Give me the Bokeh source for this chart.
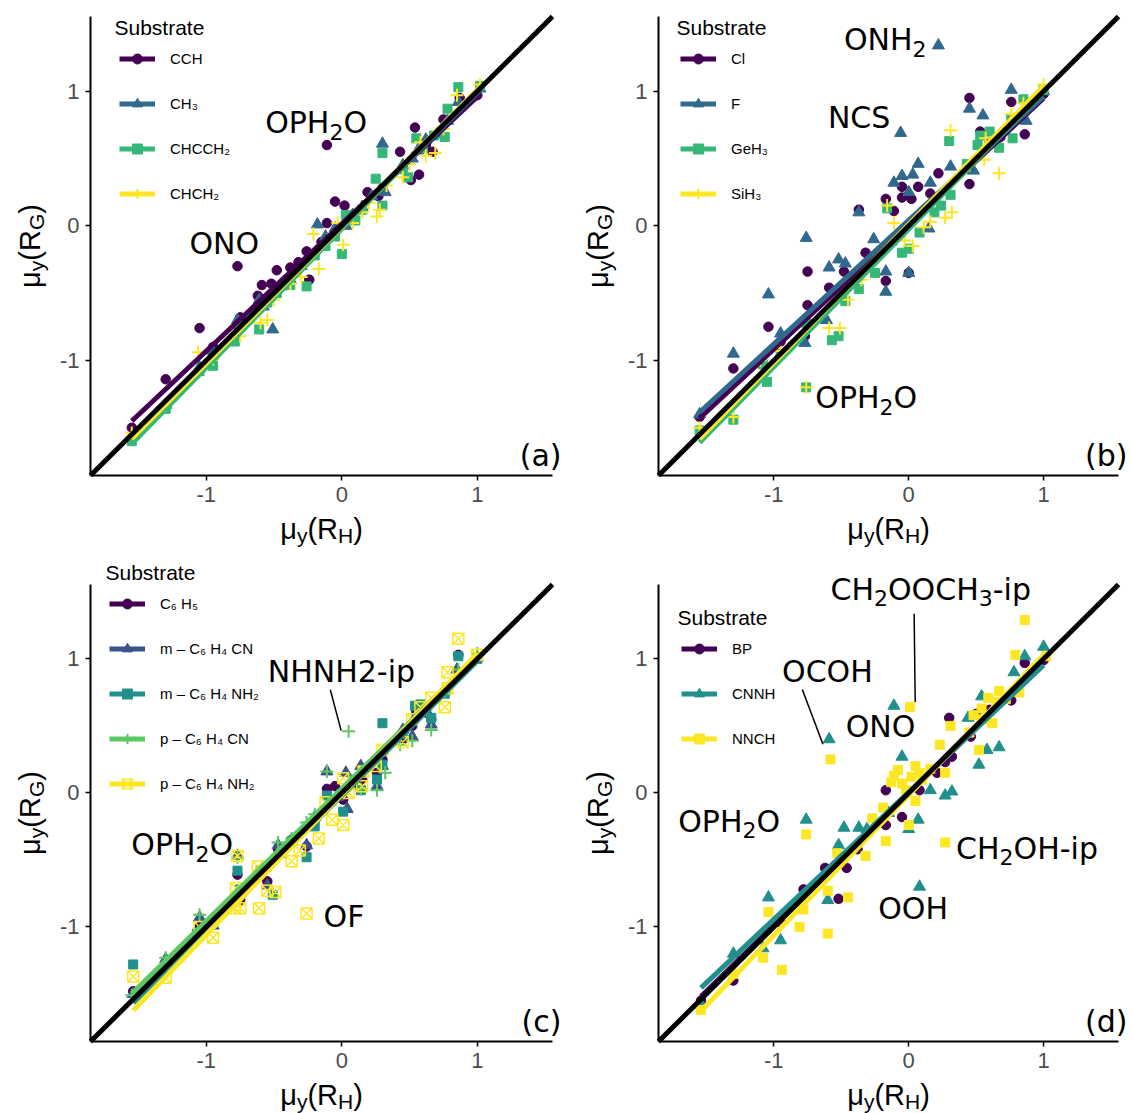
import math
from bokeh.plotting import figure
from bokeh.models import (Range1d, FixedTicker, Label, Legend, LegendItem)
from bokeh.layouts import column, row
from bokeh.embed import file_html
from bokeh.resources import INLINE

# ---------------- shared axis settings ----------------
axis_limits = [-1.855, 1.555]
tick_values = [-1, 0, 1]
tick_labels = ["-1", "0", "1"]

# ---------------- panel (a) ----------------
a_labels = ["CCH", "CH₃", "CHCCH₂", "CHCH₂"]
a_colors = ["#440154", "#31688E", "#35B779", "#FDE725"]
a_markers = ["circle", "triangle", "square", "cross"]
a_cch_x = [-1.55, -1.30, -1.05, -0.95, -0.77, -0.75, -0.62, -0.59, -0.52, -0.48, -0.38, -0.32, -0.26, -0.24, -0.15, -0.11, -0.11, -0.05, 0.02, 0.08, 0.19, 0.27, 0.30, 0.43, 0.51, 0.54, 0.57, 0.62, 0.67, 0.75, 0.87, 1.00]
a_cch_y = [-1.50, -1.14, -0.76, -0.90, -0.30, -0.68, -0.52, -0.44, -0.43, -0.33, -0.31, -0.27, -0.19, -0.40, -0.12, 0.60, 0.02, 0.18, 0.15, 0.06, 0.25, 0.22, 0.28, 0.55, 0.34, 0.73, 0.38, 0.60, 0.55, 0.79, 0.95, 0.97]
a_ch3_x = [-1.55, -1.30, -1.05, -0.95, -0.77, -0.75, -0.61, -0.58, -0.51, -0.45, -0.38, -0.30, -0.18, -0.12, -0.05, 0.03, 0.08, 0.15, 0.22, 0.30, 0.32, 0.45, 0.52, 0.56, 0.62, 0.70, 0.78, 0.86, 1.02]
a_ch3_y = [-1.56, -1.33, -1.05, -0.93, -0.70, -0.74, -0.55, -0.60, -0.77, -0.45, -0.40, -0.30, 0.01, -0.08, -0.02, 0.00, 0.08, 0.14, 0.22, 0.61, 0.25, 0.45, 0.50, 0.56, 0.64, 0.68, 0.78, 0.92, 1.02]
a_chcch2_x = [-1.55, -1.30, -1.05, -0.95, -0.79, -0.75, -0.61, -0.55, -0.48, -0.38, -0.26, -0.20, -0.12, -0.05, 0.00, 0.03, 0.10, 0.15, 0.25, 0.30, 0.30, 0.45, 0.49, 0.55, 0.60, 0.68, 0.76, 0.78, 0.86, 1.02]
a_chcch2_y = [-1.60, -1.36, -1.08, -1.04, -0.86, -0.75, -0.77, -0.57, -0.50, -0.44, -0.45, -0.22, -0.15, -0.08, -0.21, 0.08, 0.04, 0.12, 0.35, 0.54, 0.15, 0.42, 0.36, 0.65, 0.58, 0.67, 0.66, 0.87, 1.03, 1.04]
a_chch2_x = [-1.55, -1.30, -1.06, -0.95, -0.77, -0.75, -0.60, -0.55, -0.50, -0.38, -0.30, -0.21, -0.17, -0.10, -0.03, 0.01, 0.08, 0.15, 0.20, 0.26, 0.28, 0.33, 0.45, 0.50, 0.58, 0.62, 0.69, 0.75, 0.85, 1.02]
a_chch2_y = [-1.54, -1.33, -0.94, -0.99, -0.78, -0.82, -0.72, -0.70, -0.55, -0.43, -0.38, -0.06, -0.32, -0.10, 0.02, -0.14, 0.02, 0.10, 0.17, 0.07, 0.12, 0.30, 0.36, 0.46, 0.62, 0.52, 0.54, 0.72, 0.97, 1.05]
a_fit_slope = [0.945, 1.000, 1.031, 1.016]
a_fit_intercept = [0.015, -0.010, -0.022, -0.005]
a_note_text = ["OPH₂O", "ONO"]
a_note_x = [-0.19, -0.868]
a_note_y = [0.765, -0.134]

# ---------------- panel (b) ----------------
b_labels = ["Cl", "F", "GeH₃", "SiH₃"]
b_colors = ["#440154", "#31688E", "#35B779", "#FDE725"]
b_markers = ["circle", "triangle", "square", "cross"]
b_cl_x = [-1.55, -1.30, -1.04, -0.95, -0.77, -0.75, -0.75, -0.59, -0.48, -0.37, -0.32, -0.17, -0.17, -0.11, -0.05, -0.05, 0.00, 0.02, 0.07, 0.16, 0.22, 0.45, 0.45, 0.53, 0.60, 0.68, 0.76, 0.86, 1.00]
b_cl_y = [-1.42, -1.06, -0.75, -0.86, -0.82, -0.34, -0.59, -0.46, -0.34, 0.12, -0.20, -0.41, 0.20, 0.11, 0.29, 0.21, -0.35, 0.20, 0.29, 0.24, 0.39, 0.95, 0.31, 0.70, 0.62, 0.66, 0.92, 0.68, 0.98]
b_f_x = [-1.55, -1.30, -1.04, -0.95, -0.77, -0.76, -0.61, -0.59, -0.52, -0.47, -0.37, -0.26, -0.17, -0.17, -0.11, -0.06, -0.05, 0.00, 0.00, 0.03, 0.07, 0.15, 0.16, 0.22, 0.31, 0.45, 0.48, 0.55, 0.65, 0.76, 0.87, 1.00]
b_f_y = [-1.40, -0.95, -0.51, -0.80, -0.87, -0.09, -0.70, -0.31, -0.25, -0.28, 0.10, -0.10, -0.34, -0.49, 0.32, 0.69, 0.37, 0.25, -0.35, 0.38, 0.46, -0.02, 0.32, 1.34, 0.44, 0.87, 0.41, 0.82, 0.62, 1.01, 0.78, 1.00]
b_geh3_x = [-1.55, -1.30, -1.08, -1.05, -0.95, -0.76, -0.76, -0.57, -0.52, -0.47, -0.37, -0.25, -0.16, -0.12, -0.05, 0.00, 0.08, 0.19, 0.24, 0.30, 0.31, 0.43, 0.51, 0.53, 0.60, 0.67, 0.76, 0.77, 0.85, 1.00]
b_geh3_y = [-1.52, -1.44, -1.03, -1.16, -0.95, -1.20, -0.72, -0.85, -0.82, -0.56, -0.47, -0.35, 0.13, -0.11, -0.20, -0.17, -0.05, 0.10, 0.15, 0.63, 0.23, 0.46, 0.60, 0.67, 0.70, 0.58, 0.80, 0.65, 0.94, 1.01]
b_sih3_x = [-1.55, -1.30, -1.10, -0.95, -0.76, -0.59, -0.51, -0.45, -0.35, -0.16, -0.11, -0.03, 0.03, 0.11, 0.16, 0.27, 0.31, 0.32, 0.45, 0.56, 0.57, 0.62, 0.67, 0.76, 0.85, 1.00]
b_sih3_y = [-1.50, -1.42, -1.00, -0.93, -1.20, -0.76, -0.76, -0.55, -0.40, 0.15, 0.02, -0.11, -0.15, -0.01, 0.03, 0.06, 0.71, 0.10, 0.45, 0.49, 0.65, 0.62, 0.39, 0.83, 0.91, 1.05]
b_fit_slope = [0.932, 0.920, 1.023, 1.028]
b_fit_intercept = [0.016, 0.041, -0.025, 0.011]
b_note_text = ["ONH₂", "NCS", "OPH₂O"]
b_note_x = [-0.174, -0.368, -0.315]
b_note_y = [1.381, 0.805, -1.279]

# ---------------- panel (c) ----------------
c_labels = ["C₆ H₅", "m – C₆ H₄ CN", "m – C₆ H₄ NH₂", "p – C₆ H₄ CN", "p – C₆ H₄ NH₂"]
c_colors = ["#440154", "#3B528B", "#21908C", "#5DC863", "#FDE725"]
c_markers = ["circle", "triangle", "square", "cross", "square_x"]
c_c6h5_x = [-1.54, -1.30, -1.05, -0.95, -0.77, -0.75, -0.60, -0.55, -0.47, -0.37, -0.26, -0.20, -0.11, -0.05, 0.01, 0.08, 0.15, 0.26, 0.30, 0.45, 0.52, 0.55, 0.62, 0.66, 0.76, 0.86, 1.00]
c_c6h5_y = [-1.48, -1.27, -1.00, -0.98, -0.61, -0.80, -0.62, -0.66, -0.42, -0.35, -0.40, -0.20, 0.03, 0.05, -0.05, 0.06, 0.10, 0.15, 0.25, 0.40, 0.50, 0.60, 0.60, 0.55, 0.76, 1.03, 1.01]
c_mcn_x = [-1.54, -1.30, -1.05, -0.95, -0.77, -0.75, -0.55, -0.47, -0.37, -0.26, -0.20, -0.11, -0.03, 0.03, 0.04, 0.14, 0.26, 0.30, 0.45, 0.52, 0.55, 0.62, 0.66, 0.76, 0.85, 1.00]
c_mcn_y = [-1.50, -1.24, -0.93, -0.99, -0.47, -0.75, -0.69, -0.39, -0.36, -0.39, -0.18, 0.16, -0.03, 0.15, -0.12, 0.20, 0.05, 0.20, 0.47, 0.42, 0.58, 0.62, 0.51, 0.76, 0.92, 1.01]
c_mnh2_x = [-1.54, -1.30, -1.07, -0.95, -0.77, -0.75, -0.60, -0.51, -0.45, -0.37, -0.26, -0.20, -0.11, 0.01, 0.08, 0.14, 0.26, 0.30, 0.30, 0.45, 0.54, 0.58, 0.66, 0.76, 0.86, 1.00]
c_mnh2_y = [-1.28, -1.30, -1.05, -0.97, -0.58, -0.72, -0.58, -0.76, -0.45, -0.36, -0.48, -0.25, -0.02, -0.14, 0.10, 0.02, 0.10, 0.52, 0.21, 0.44, 0.65, 0.66, 0.56, 0.74, 1.02, 1.00]
c_pcn_x = [-1.55, -1.30, -1.05, -0.95, -0.77, -0.75, -0.60, -0.47, -0.37, -0.26, -0.20, -0.11, -0.03, 0.05, 0.14, 0.26, 0.32, 0.43, 0.52, 0.55, 0.62, 0.66, 0.76, 0.86, 1.00]
c_pcn_y = [-1.51, -1.23, -0.91, -0.95, -0.48, -0.74, -0.60, -0.37, -0.34, -0.22, -0.16, 0.16, -0.02, 0.46, 0.03, 0.02, 0.15, 0.36, 0.39, 0.56, 0.62, 0.47, 0.75, 0.92, 1.04]
c_pnh2_x = [-1.54, -1.30, -1.05, -0.95, -0.79, -0.78, -0.77, -0.75, -0.62, -0.61, -0.55, -0.49, -0.37, -0.31, -0.26, -0.17, -0.12, -0.07, 0.01, 0.01, 0.05, 0.15, 0.16, 0.25, 0.30, 0.45, 0.52, 0.58, 0.66, 0.76, 0.78, 0.78, 0.86, 1.00]
c_pnh2_y = [-1.37, -1.38, -1.00, -1.08, -0.86, -0.71, -0.47, -0.86, -0.55, -0.86, -0.73, -0.74, -0.51, -0.43, -0.90, -0.34, -0.07, -0.20, -0.24, 0.11, 0.00, 0.05, 0.16, 0.20, 0.32, 0.38, 0.55, 0.64, 0.71, 0.64, 0.78, 0.90, 1.15, 1.03]
c_fit_slope = [1.005, 1.000, 1.005, 0.988, 1.048]
c_fit_intercept = [-0.010, -0.005, -0.020, 0.032, -0.010]
c_note_text = ["NHNH2-ip", "OPH₂O", "OF"]
c_note_x = [-0.003, -1.178, 0.016]
c_note_y = [0.903, -0.387, -0.926]
c_seg_x0 = [-0.085]
c_seg_y0 = [0.770]
c_seg_x1 = [-0.005]
c_seg_y1 = [0.465]

# ---------------- panel (d) ----------------
d_labels = ["BP", "CNNH", "NNCH"]
d_colors = ["#440154", "#21908C", "#FDE725"]
d_markers = ["circle", "triangle", "square"]
d_bp_x = [-1.54, -1.30, -1.05, -0.95, -0.78, -0.62, -0.52, -0.46, -0.38, -0.17, -0.17, -0.05, 0.08, 0.21, 0.27, 0.30, 0.32, 0.46, 0.50, 0.60, 0.76, 0.86, 1.00]
d_bp_y = [-1.55, -1.40, -1.02, -0.97, -0.72, -0.56, -0.79, -0.56, -0.42, -0.24, 0.02, -0.18, 0.02, 0.15, 0.23, 0.56, 0.27, 0.42, 0.59, 0.62, 0.69, 0.97, 0.99]
d_cnnh_x = [-1.54, -1.30, -1.08, -1.04, -0.95, -0.76, -0.60, -0.59, -0.52, -0.48, -0.37, -0.31, -0.15, -0.11, -0.05, 0.00, 0.07, 0.08, 0.16, 0.27, 0.32, 0.44, 0.52, 0.54, 0.58, 0.67, 0.78, 0.86, 1.00]
d_cnnh_y = [-1.58, -1.20, -1.16, -0.78, -1.10, -0.20, -0.80, 0.40, -0.39, -0.26, -0.26, -0.27, -0.15, 0.65, 0.27, -0.27, -0.20, -0.70, 0.02, -0.02, 0.01, 0.56, 0.21, 0.72, 0.32, 0.34, 0.90, 1.02, 1.09]
d_nnch_x = [-1.54, -1.30, -1.08, -1.04, -0.94, -0.81, -0.78, -0.76, -0.60, -0.60, -0.58, -0.53, -0.45, -0.32, -0.27, -0.19, -0.17, -0.13, -0.11, -0.08, -0.05, -0.02, 0.00, 0.01, 0.02, 0.05, 0.05, 0.08, 0.10, 0.16, 0.23, 0.27, 0.27, 0.31, 0.45, 0.48, 0.52, 0.54, 0.55, 0.59, 0.62, 0.65, 0.67, 0.72, 0.79, 0.82, 0.86, 1.02]
d_nnch_y = [-1.62, -1.35, -1.23, -0.89, -1.32, -1.00, -0.87, -0.31, -1.05, -0.73, 0.25, -0.45, -0.78, -0.47, -0.19, -0.11, -0.36, 0.08, 0.13, 0.17, 0.07, 0.02, -0.24, 0.64, 0.12, -0.06, 0.20, 0.15, 0.10, 0.18, 0.36, -0.37, 0.15, 0.50, 0.45, 0.58, 0.32, 0.63, 0.55, 0.71, 0.52, 0.68, 0.76, 0.70, 1.03, 0.75, 1.29, 1.02]
d_fit_slope = [0.984, 0.948, 1.046]
d_fit_intercept = [-0.005, 0.005, -0.016]
d_note_text = ["CH₂OOCH₃-ip", "OCOH", "ONO", "OPH₂O", "CH₂OH-ip", "OOH"]
d_note_x = [0.163, -0.603, -0.209, -1.331, 0.877, 0.032]
d_note_y = [1.521, 0.903, 0.495, -0.213, -0.413, -0.861]
d_seg_x0 = [-0.789, 0.040]
d_seg_y0 = [0.771, 1.337]
d_seg_x1 = [-0.636, 0.048]
d_seg_y1 = [0.363, 0.679]

# ---------------- styling ----------------
MARKER_STYLE = {
    "circle": dict(size=9.5, line_width=1),
    "triangle": dict(size=12, line_width=1),
    "square": dict(size=9, line_width=1),
    "cross": dict(size=13, line_width=2),
    "square_x": dict(size=11, line_width=1.5, fill_alpha=0),
}
SANS = "Liberation Sans"
ANNOT_FONT = "DejaVu Sans"
# advance widths (em) used to lay out text made of main + subscript pieces
EM = {"μ": 0.576, "y": 0.5, "(": 0.333, "R": 0.722, "H": 0.722, "G": 0.778, ")": 0.333}
EM_DV = {"O": 0.787, "P": 0.603, "H": 0.752, "N": 0.748, "C": 0.698, "S": 0.635,
         "F": 0.575, "2": 0.636, "3": 0.636, "-": 0.361, "i": 0.278, "p": 0.635}
SUB_DIGITS = {"₀": "0", "₁": "1", "₂": "2", "₃": "3", "₄": "4",
              "₅": "5", "₆": "6", "₇": "7", "₈": "8", "₉": "9"}
NOTE_SIZE, NOTE_SUB_SIZE, NOTE_SUB_DROP = 30, 22, 9


def screen_label(p, x, y, text, font, size, **kw):
    p.add_layout(Label(x=x, y=y, x_units="screen", y_units="screen", text=text,
                       text_font=font, text_font_size=f"{size}px", text_color="black", **kw))


def split_sub(text):
    pieces = []
    for ch in text:
        sub = ch in SUB_DIGITS
        c = SUB_DIGITS.get(ch, ch)
        if pieces and pieces[-1][1] == sub:
            pieces[-1][0] += c
        else:
            pieces.append([c, sub])
    return pieces


def add_note(p, kx, ky, text, x, y):
    pieces = split_sub(text)
    widths = [sum(EM_DV.get(ch, 0.6) for ch in t) * (NOTE_SUB_SIZE if sub else NOTE_SIZE)
              for t, sub in pieces]
    cur = -sum(widths) / 2
    for (t, sub), w in zip(pieces, widths):
        p.add_layout(Label(x=x + cur / kx, y=y - (NOTE_SUB_DROP / ky if sub else 0), text=t,
                           text_font=ANNOT_FONT,
                           text_font_size=f"{NOTE_SUB_SIZE if sub else NOTE_SIZE}px",
                           text_color="black", text_align="left", text_baseline="middle"))
        cur += w


def add_axis_titles(p, left, bottom, fw, fh):
    S, s = 29, 21
    def parts(sub):
        return [("μ", S, 0), ("y", s, 7), ("(", S, 0), ("R", S, 0), (sub, s, 7), (")", S, 0)]
    px = parts("H")
    total = sum(sz * EM[t] for t, sz, _ in px)
    cx = left + fw / 2 - total / 2
    for t, sz, sh in px:
        screen_label(p, cx, bottom - 53 - sh, t, SANS, sz,
                     text_align="left", text_baseline="middle")
        cx += sz * EM[t]
    py = parts("G")
    total = sum(sz * EM[t] for t, sz, _ in py)
    cy = bottom + fh / 2 - total / 2
    for t, sz, sh in py:
        screen_label(p, left - 61 + sh, cy, t, SANS, sz, angle=math.pi / 2,
                     text_align="left", text_baseline="middle")
        cy += sz * EM[t]


def build_panel(tag, labels, colors, markers, xs, ys, slopes, intercepts,
                note_text, note_x, note_y, segs, width, height, borders,
                legend_loc, title_loc):
    left, right, top, bottom = borders
    fw = width - left - right
    fh = height - top - bottom
    lo, hi = axis_limits
    kx = fw / (hi - lo)
    ky = fh / (hi - lo)
    p = figure(width=width, height=height, output_backend="svg", toolbar_location=None,
               x_range=Range1d(lo - left / kx, hi + right / kx),
               y_range=Range1d(lo - bottom / ky, hi + top / ky),
               min_border=0, min_border_left=0, min_border_right=0,
               min_border_top=0, min_border_bottom=0)
    p.outline_line_color = None
    p.background_fill_color = "white"
    p.border_fill_color = "white"
    p.xgrid.visible = False
    p.ygrid.visible = False
    for ax in (p.xaxis[0], p.yaxis[0]):
        ax.fixed_location = lo
        ax.bounds = (lo, hi)
        ax.ticker = FixedTicker(ticks=tick_values)
        ax.major_label_overrides = {t: l for t, l in zip(tick_values, tick_labels)}
        ax.axis_line_color = "black"
        ax.axis_line_width = 2
        ax.major_tick_line_color = "black"
        ax.major_tick_line_width = 1.5
        ax.major_tick_out = 5
        ax.major_tick_in = 0
        ax.minor_tick_line_color = None
        ax.major_label_text_font = SANS
        ax.major_label_text_font_size = "22px"
        ax.major_label_text_color = "#4D4D4D"
        ax.major_label_standoff = 6

    scatter_r = []
    for x, y, c, m in zip(xs, ys, colors, markers):
        st = dict(MARKER_STYLE[m])
        r = p.scatter(x, y, marker=m, fill_color=c, line_color=c, **st)
        scatter_r.append(r)
    line_r = []
    for x, c, a, b in zip(xs, colors, slopes, intercepts):
        x0, x1 = min(x), max(x)
        r = p.line([x0, x1], [a * x0 + b, a * x1 + b], line_color=c, line_width=5)
        line_r.append(r)

    # identity line across the panel
    p.line(axis_limits, axis_limits, line_color="black", line_width=5)

    if segs is not None:
        sx0, sy0, sx1, sy1 = segs
        p.segment(sx0, sy0, sx1, sy1, line_color="black", line_width=1.5)

    for t, x, y in zip(note_text, note_x, note_y):
        add_note(p, kx, ky, t, x, y)

    items = [LegendItem(label=lab, renderers=[lr, sr])
             for lab, lr, sr in zip(labels, line_r, scatter_r)]
    legend = Legend(items=items, location=(left + legend_loc[0], bottom + legend_loc[1]),
                    orientation="vertical",
                    glyph_width=36, glyph_height=25, label_height=25, spacing=20,
                    padding=0, margin=0, label_standoff=15,
                    border_line_color=None, background_fill_alpha=0,
                    label_text_font=SANS, label_text_font_size="15px",
                    label_text_color="black")
    p.add_layout(legend)
    screen_label(p, left + title_loc[0], bottom + title_loc[1], "Substrate", SANS, 21,
                 text_align="left", text_baseline="middle")
    screen_label(p, left + fw + 9, bottom + 20, tag, ANNOT_FONT, 30,
                 text_align="right", text_baseline="middle")
    add_axis_titles(p, left, bottom, fw, fh)
    return p


# legend / title positions are frame-relative pixel offsets (x, y from frame bottom)
pa = build_panel("(a)", a_labels, a_colors, a_markers,
                 [a_cch_x, a_ch3_x, a_chcch2_x, a_chch2_x],
                 [a_cch_y, a_ch3_y, a_chcch2_y, a_chch2_y],
                 a_fit_slope, a_fit_intercept, a_note_text, a_note_x, a_note_y, None,
                 565, 556, (90, 13, 16, 81), (29, 269), (24, 448))
pb = build_panel("(b)", b_labels, b_colors, b_markers,
                 [b_cl_x, b_f_x, b_geh3_x, b_sih3_x],
                 [b_cl_y, b_f_y, b_geh3_y, b_sih3_y],
                 b_fit_slope, b_fit_intercept, b_note_text, b_note_x, b_note_y, None,
                 566, 556, (93, 13, 16, 81), (22, 269), (18, 448))
pc = build_panel("(c)", c_labels, c_colors, c_markers,
                 [c_c6h5_x, c_mcn_x, c_mnh2_x, c_pcn_x, c_pnh2_x],
                 [c_c6h5_y, c_mcn_y, c_mnh2_y, c_pcn_y, c_pnh2_y],
                 c_fit_slope, c_fit_intercept, c_note_text, c_note_x, c_note_y,
                 (c_seg_x0, c_seg_y0, c_seg_x1, c_seg_y1),
                 565, 557, (90, 13, 28, 72), (19, 245.5), (15, 469))
pd = build_panel("(d)", d_labels, d_colors, d_markers,
                 [d_bp_x, d_cnnh_x, d_nnch_x],
                 [d_bp_y, d_cnnh_y, d_nnch_y],
                 d_fit_slope, d_fit_intercept, d_note_text, d_note_x, d_note_y,
                 (d_seg_x0, d_seg_y0, d_seg_x1, d_seg_y1),
                 566, 557, (93, 13, 28, 72), (23, 290), (19, 424))

layout = column(row(pa, pb), row(pc, pd))
open("out.html", "w").write(file_html(layout, INLINE))
